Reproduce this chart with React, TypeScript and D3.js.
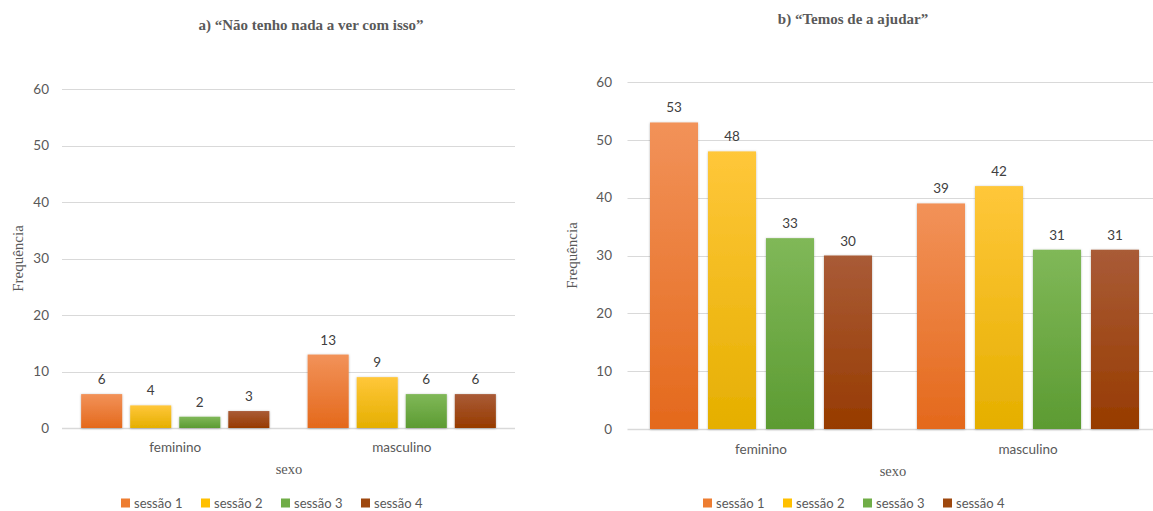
import React from "react";
import * as d3 from "d3";

// Frequências por sexo e sessão
const categories = ["feminino", "masculino"];
const sessions = ["sessão 1", "sessão 2", "sessão 3", "sessão 4"];
const yTicks = [0, 10, 20, 30, 40, 50, 60];

// a) "Não tenho nada a ver com isso"
const naoTenhoSessao1 = [6, 13];
const naoTenhoSessao2 = [4, 9];
const naoTenhoSessao3 = [2, 6];
const naoTenhoSessao4 = [3, 6];

// b) "Temos de a ajudar"
const temosSessao1 = [53, 39];
const temosSessao2 = [48, 42];
const temosSessao3 = [33, 31];
const temosSessao4 = [30, 31];

const gradStops = [
  ["#F29259", "#E4691C"],
  ["#FFC73A", "#E5AF00"],
  ["#80B858", "#5C9B32"],
  ["#A95B37", "#973B00"],
];
const legendColors = ["#ED7D31", "#FFC000", "#70AD47", "#9E480E"];

const SANS = "Lato, 'Open Sans', sans-serif";
const SERIF = "'Liberation Serif', 'DejaVu Serif', serif";
const GREY = "#595959";

type PanelProps = {
  id: string;
  title: string;
  titleX: number;
  titleY: number;
  values: number[][];
  xRange: [number, number];
  yRange: [number, number];
  tickX: number;
  yTitleX: number;
  catY: number;
  sexoX: number;
  sexoY: number;
  legendX: number;
  legendY: number;
  inner: { pi: number; po: number };
};

function Panel(p: PanelProps) {
  const x0 = d3.scaleBand<string>().domain(categories).range(p.xRange).padding(0);
  const x1 = d3
    .scaleBand<string>()
    .domain(sessions)
    .range([0, x0.bandwidth()])
    .paddingInner(p.inner.pi)
    .paddingOuter(p.inner.po);
  const y = d3.scaleLinear().domain([0, 60]).range(p.yRange);
  const legendX = d3.scaleLinear().domain([0, 1]).range([p.legendX, p.legendX + 80]);
  const yMid = (p.yRange[0] + p.yRange[1]) / 2;

  return (
    <g>
      <text
        x={p.titleX}
        y={p.titleY}
        textAnchor="middle"
        fontFamily={SERIF}
        fontWeight="bold"
        fontSize={15}
        fill={GREY}
      >
        {p.title}
      </text>

      {yTicks.map((t) => (
        <g key={t}>
          <line
            x1={p.xRange[0]}
            x2={p.xRange[1]}
            y1={Math.round(y(t)) + 0.5}
            y2={Math.round(y(t)) + 0.5}
            stroke="#D9D9D9"
            strokeWidth={t === 0 ? 1.5 : 1}
          />
          <text
            x={p.tickX}
            y={y(t)}
            dy="0.35em"
            textAnchor="end"
            fontFamily={SANS}
            fontSize={13.5}
            fill={GREY}
          >
            {t}
          </text>
        </g>
      ))}

      {categories.map((c, ci) => (
        <g key={c} transform={`translate(${x0(c)},0)`}>
          {sessions.map((s, si) => {
            const v = p.values[si][ci];
            const bx = x1(s) as number;
            const bw = x1.bandwidth();
            return (
              <g key={s}>
                <rect
                  x={bx}
                  y={y(v)}
                  width={bw}
                  height={y(0) - y(v)}
                  fill={`url(#${p.id}-g${si})`}
                  filter="url(#barShadow)"
                />
                <text
                  x={bx + bw / 2}
                  y={y(v) - 10}
                  textAnchor="middle"
                  fontFamily={SANS}
                  fontSize={13.5}
                  fill="#404040"
                >
                  {v}
                </text>
              </g>
            );
          })}
          <text
            x={x0.bandwidth() / 2}
            y={p.catY}
            dy="0.35em"
            textAnchor="middle"
            fontFamily={SANS}
            fontSize={13.5}
            fill={GREY}
          >
            {c}
          </text>
        </g>
      ))}

      <text
        transform={`translate(${p.yTitleX},${yMid}) rotate(-90)`}
        dy="0.35em"
        textAnchor="middle"
        fontFamily={SERIF}
        fontSize={15}
        fill={GREY}
      >
        Frequência
      </text>
      <text
        x={p.sexoX}
        y={p.sexoY}
        dy="0.35em"
        textAnchor="middle"
        fontFamily={SERIF}
        fontSize={14.5}
        fill={GREY}
      >
        sexo
      </text>

      {sessions.map((s, si) => (
        <g key={s} transform={`translate(${legendX(si)},${p.legendY})`}>
          <rect x={0} y={-4.5} width={9} height={9} fill={legendColors[si]} />
          <text x={13} y={0} dy="0.35em" fontFamily={SANS} fontSize={13} fill={GREY}>
            {s}
          </text>
        </g>
      ))}
    </g>
  );
}

export default function App() {
  const valuesA = [naoTenhoSessao1, naoTenhoSessao2, naoTenhoSessao3, naoTenhoSessao4];
  const valuesB = [temosSessao1, temosSessao2, temosSessao3, temosSessao4];
  return (
    <svg
      width={1153}
      height={511}
      style={{ position: "absolute", left: 0, top: 0, background: "#fff" }}
    >
      <defs>
        <filter id="barShadow" x="-20%" y="-20%" width="140%" height="140%">
          <feDropShadow dx={0} dy={0.5} stdDeviation={1.2} floodColor="#000" floodOpacity={0.3} />
        </filter>
        {["a", "b"].map((id) =>
          gradStops.map((g, i) => (
            <linearGradient key={id + i} id={`${id}-g${i}`} x1="0" y1="0" x2="0" y2="1">
              <stop offset="0%" stopColor={g[0]} />
              <stop offset="100%" stopColor={g[1]} />
            </linearGradient>
          ))
        )}
      </defs>
      <rect width={1153} height={511} fill="#fff" />
      <Panel
        id="a"
        title="a) “Não tenho nada a ver com isso”"
        titleX={311}
        titleY={30}
        values={valuesA}
        xRange={[62, 515]}
        yRange={[428, 89]}
        tickX={49}
        yTitleX={18}
        catY={447}
        sexoX={289}
        sexoY={469}
        legendX={121}
        legendY={503}
        inner={{ pi: 0.163, po: 0.39 }}
      />
      <Panel
        id="b"
        title="b) “Temos de a ajudar”"
        titleX={853}
        titleY={24}
        values={valuesB}
        xRange={[627.5, 1161.5]}
        yRange={[429, 82]}
        tickX={612}
        yTitleX={572}
        catY={449}
        sexoX={893}
        sexoY={471}
        legendX={703}
        legendY={503}
        inner={{ pi: 0.172, po: 0.388 }}
      />
    </svg>
  );
}
